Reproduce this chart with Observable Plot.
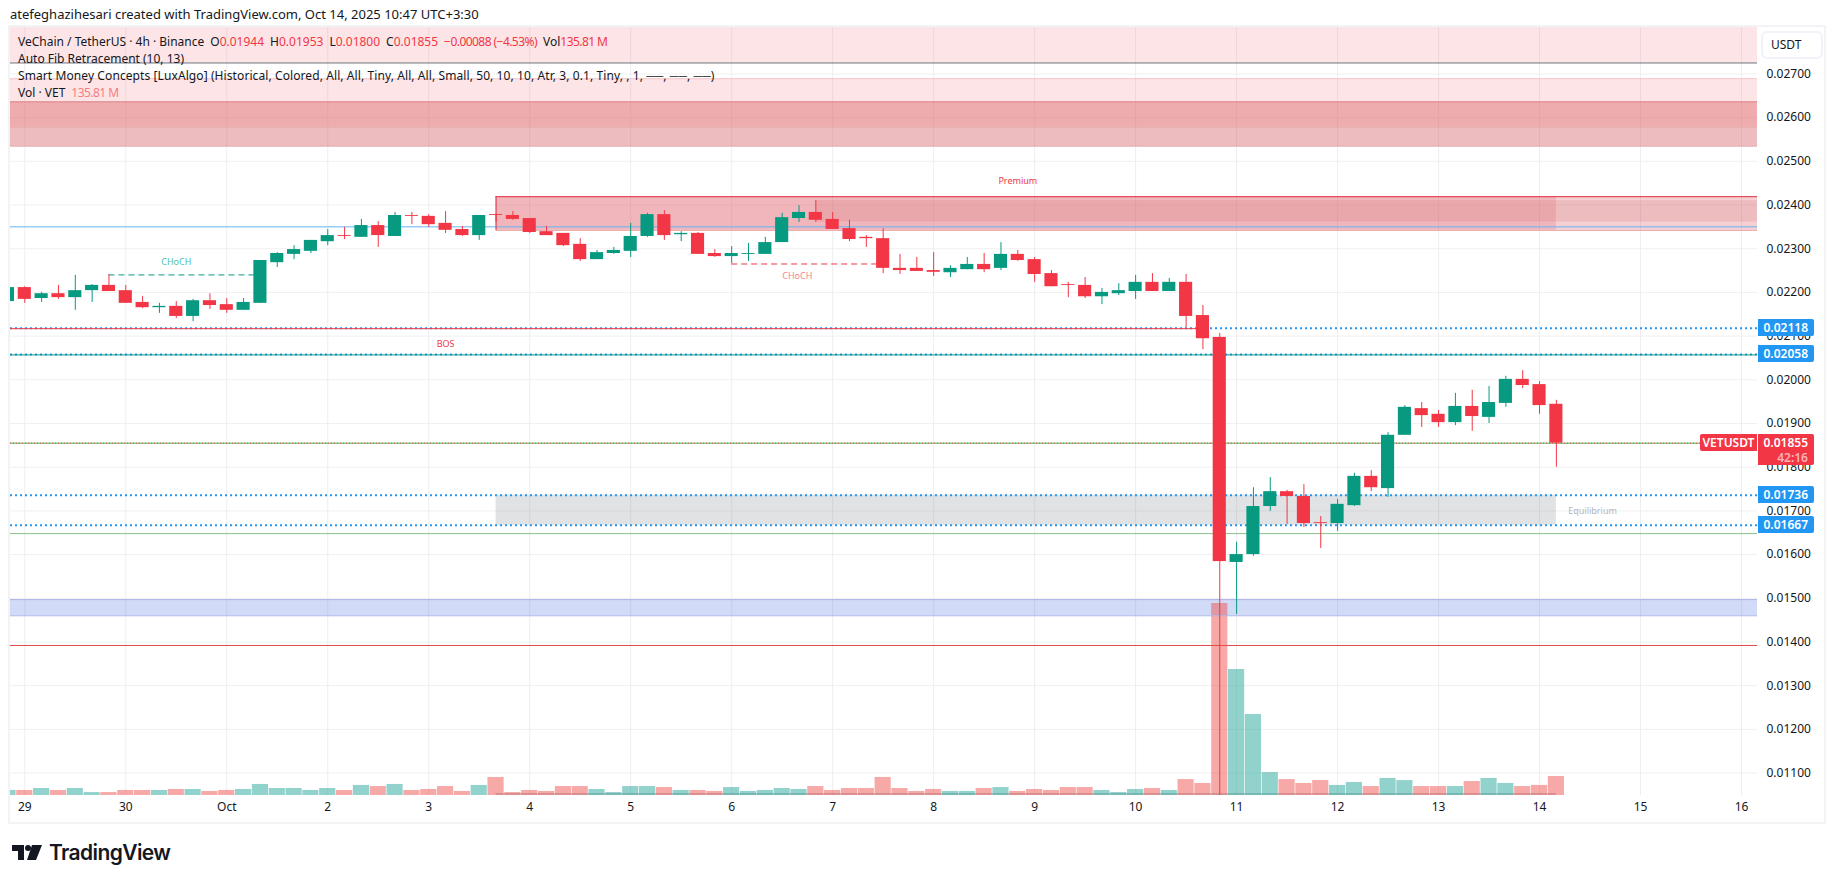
<!DOCTYPE html>
<html><head><meta charset="utf-8">
<script src="https://cdn.jsdelivr.net/npm/d3@7"></script>
<script src="https://cdn.jsdelivr.net/npm/@observablehq/plot@0.6"></script>
<style>
html,body{margin:0;padding:0;background:#fff;width:1835px;height:883px;overflow:hidden;font-family:"Noto Sans",sans-serif;color:#131722}
#wrap{position:relative;width:1835px;height:883px}
#chart{position:absolute;left:0;top:0}
.abs{position:absolute;white-space:pre;line-height:1}
#frame{position:absolute;left:8px;top:25px;width:1814px;height:795px;border:2px solid #f2f3f5;pointer-events:none}
#usdt{position:absolute;left:1761px;top:31px;width:58px;height:24px;border:2px solid #f0f3fa;border-radius:6px;font-size:12px;line-height:24px;text-indent:8px;background:#fff}
.leg{font-size:12px;left:18px;color:#131722}
.r{color:#f23645}.rl{color:#f77c80}
.g{margin-left:6px}
.n{letter-spacing:-.55px}
.tag{position:absolute;left:1758px;width:56px;color:#fff;font-size:12px;font-weight:600;text-align:right;box-sizing:border-box;padding-right:6px;border-radius:0 2px 2px 0}
</style></head><body><div id="wrap">
<div id="chart"></div>
<div id="frame"></div>
<div class="abs" style="left:10px;top:8px;font-size:13px;">atefeghazihesari created with TradingView.com, Oct 14, 2025 10:47 UTC+3:30</div>
<div class="abs leg" style="top:36px">VeChain / TetherUS · 4h · Binance<span class="g">O</span><span class="r">0.01944</span><span class="g">H</span><span class="r">0.01953</span><span class="g">L</span><span class="r">0.01800</span><span class="g">C</span><span class="r">0.01855</span><span class="g r n">−0.00088 (−4.53%)</span><span class="g">Vol</span><span class="r n">135.81 M</span></div>
<div class="abs leg" style="top:53px">Auto Fib Retracement (10, 13)</div>
<div class="abs leg" style="top:70px;letter-spacing:.09px">Smart Money Concepts [LuxAlgo] (Historical, Colored, All, All, Tiny, All, All, Small, 50, 10, 10, Atr, 3, 0.1, Tiny, , 1, ──, ──, ──)</div>
<div class="abs leg" style="top:87px">Vol · VET<span class="g rl n">135.81 M</span></div>
<div id="usdt">USDT</div>
<svg style="position:absolute;left:12px;top:845px" width="30" height="15" viewBox="0 0 30 15"><path d="M0 0H12V15H6V6H0Z M20 0H30L24 15H15Z" fill="#131722"/><circle cx="16" cy="3" r="3" fill="#131722"/></svg>
<div class="abs" style="left:49px;top:842px;font-family:Inter,sans-serif;font-size:21px;font-weight:600;letter-spacing:-.6px">TradingView</div>
</div>
<script>
// prices in exchange ticks (1 tick = 0.00001 USDT); first bar is the partly hidden one at the left edge
const tick = 0.00001;
const opens = [2179,2211,2186,2197,2188,2204,2216,2204,2177,2165,2168,2145,2181,2172,2159,2175,2268,2287,2294,2316,2330,2326,2353,2328,2376,2374,2358,2344,2330,2378,2376,2369,2339,2335,2310,2275,2289,2294,2328,2378,2332,2335,2289,2282,2287,2287,2314,2369,2383,2367,2346,2326,2323,2255,2255,2250,2245,2252,2264,2255,2287,2275,2243,2218,2216,2190,2197,2202,2223,2202,2223,2147,2097,1582,1600,1710,1744,1733,1673,1671,1712,1779,1751,1873,1934,1921,1902,1939,1914,1946,2001,1989,1944];
const closes = [2211,2184,2197,2188,2204,2216,2202,2175,2165,2168,2145,2181,2170,2159,2177,2273,2289,2298,2319,2330,2328,2353,2330,2376,2374,2355,2342,2330,2376,2376,2367,2337,2330,2307,2275,2291,2296,2328,2378,2330,2335,2287,2282,2289,2289,2314,2371,2383,2365,2344,2321,2323,2255,2250,2248,2246,2255,2264,2252,2287,2273,2241,2213,2216,2190,2200,2204,2223,2202,2223,2145,2094,1584,1600,1710,1744,1733,1671,1671,1715,1779,1753,1873,1937,1918,1902,1939,1916,1948,2001,1987,1941,1855];
const highs = [2211,2213,2200,2216,2239,2218,2241,2216,2191,2175,2179,2184,2197,2186,2186,2273,2291,2307,2319,2344,2349,2367,2362,2383,2383,2378,2385,2351,2376,2378,2385,2369,2351,2335,2323,2296,2303,2358,2381,2387,2339,2337,2298,2305,2312,2326,2381,2399,2410,2383,2365,2330,2346,2287,2280,2291,2261,2280,2289,2314,2296,2280,2250,2223,2234,2209,2220,2239,2243,2232,2241,2170,2106,1628,1753,1776,1747,1760,1687,1726,1786,1792,1879,1941,1948,1930,1969,1976,1985,2008,2021,1996,1953];
const lows = [2179,2175,2177,2184,2159,2177,2202,2175,2163,2152,2140,2133,2161,2152,2159,2175,2257,2275,2289,2307,2321,2326,2303,2328,2355,2349,2335,2328,2319,2361,2365,2335,2330,2305,2271,2275,2287,2280,2326,2319,2316,2287,2280,2266,2271,2287,2314,2360,2360,2344,2316,2303,2243,2241,2248,2236,2234,2252,2245,2250,2271,2223,2213,2188,2186,2172,2193,2184,2202,2202,2119,2069,1000,1463,1596,1699,1669,1662,1614,1653,1710,1744,1731,1873,1891,1891,1895,1882,1900,1937,1980,1921,1800];
// volume in millions, same order
const volumes = [36,36,50,36,50,21,21,36,36,36,43,43,29,36,43,79,50,50,36,50,36,72,64,79,36,43,64,29,72,129,21,36,29,64,64,43,21,64,64,57,36,36,29,57,29,36,50,43,64,36,50,50,129,50,29,43,29,29,50,57,29,43,36,57,57,36,21,43,50,36,114,86,1373,901,579,164,114,86,107,72,93,64,122,107,64,64,64,100,122,86,64,72,136];
const dayLabels = ["29","30","Oct","2","3","4","5","6","7","8","9","10","11","12","13","14","15","16"];
const priceTicks = [0.011,0.012,0.013,0.014,0.015,0.016,0.017,0.018,0.019,0.02,0.021,0.022,0.023,0.024,0.025,0.026,0.027];
const barsPerDay = 6;
const domainX = [-0.85,102.95];
const domainY = [0.010487,0.028062];
const volPerPrice = 0.32*tick;           // volume overlay: price span per million
const sweepBar = 28, retestBar = 47, zoneEndBar = 91;

const bars = opens.map((o,k)=>({i:k-1,o:o*tick,c:closes[k]*tick,h:highs[k]*tick,l:lows[k]*tick,v:volumes[k],up:closes[k]>o}));
const dayTicks = dayLabels.map((_,k)=>k*barsPerDay);

const RED="#f23645",GRN="#089981",BLUE="#2196f3";
const xr=domainX[1], xl=domainX[0], yb=domainY[0], yt=domainY[1];
const P=t=>t*tick;
// zones: [x1,x2,lowTicks,highTicks,fill,opacity]
const zones=[
 [xl,xr,2725,2806.2,RED,.13],
 [xl,xr,2636,2689,RED,.13],
 [xl,xr,2578,2636,"#dd595d",.5],
 [xl,xr,2535,2578,"#d0585f",.4],
 [sweepBar,xr,2342,2419,"#d93f4a",.25],
 [retestBar,xr,2361,2410,"#c0505a",.15],
 [sweepBar,zoneEndBar,2342,2419,"#e0555f",.2],
 [sweepBar,zoneEndBar,1667,1736,"#787b86",.22],
 [xl,xr,1460,1497,"#3f63d8",.24],
 [sweepBar,zoneEndBar,1048.7,1053.4,"#787b86",.4]
].map(([x1,x2,l,h,fill,a])=>({x1,x2,y1:P(l),y2:P(h),fill,a}));
// horizontal levels: [x1,x2,priceTicks,colour,width,dash,opacity]
const levels=[
 [xl,xr,2725,"#6f6f7a",1,null,1],
 [xl,xr,2689,"#f7c6c8",1,null,1],
 [xl,xr,2636,"#de8488",1,null,1],
 [xl,xr,2535,"#e08a8e",1,null,1],
 [xl,xr,2578,"#e5a0a3",1,null,.6],
 [sweepBar,xr,2419,"#df2f40",1,null,1],
 [sweepBar,xr,2342,"#e8a0a5",1,null,1],
 [xl,xr,2350,"#64b5f6",1,null,1],
 [xl,xr,2118,BLUE,2,"2 3",1],
 [xl,70,2117,RED,1,null,1],
 [xl,xr,2058,BLUE,2,"2 3",1],
 [xl,xr,2057,GRN,1,null,1],
 [xl,xr,1855,"#4caf50",1,null,1],
 [xl,xr,1855,RED,1,"1 2",.9],
 [xl,xr,1736,BLUE,2,"2 3",1],
 [xl,xr,1667,BLUE,2,"2 3",1],
 [xl,xr,1648,"#86c08c",1,null,1],
 [xl,xr,1497,"#aab6e8",1,null,1],
 [xl,xr,1460,"#a9b5e6",1,null,1],
 [xl,xr,1392,"#e24a4a",1,null,1],
 [5,14,2240,GRN,1,"6 4",1],
 [42,51,2265,RED,1,"6 4",1]
].map(([x1,x2,p,c,w,d,a])=>({x1,x2,p:P(p),c,w,d,a}));
const notes=[
 {x:59,p:2454,t:"Premium",c:"#f23645"},
 {x:93.15,p:1699,t:"Equilibrium",c:"#b2b5be"},
 {x:25,p:2082,t:"BOS",c:"#f23645"},
 {x:9,p:2269,t:"CHoCH",c:"#4dbfa9"},
 {x:45.9,p:2237,t:"CHoCH",c:"#f7848f"}
];

const chart=Plot.plot({
 width:1835,height:883,marginLeft:10,marginRight:78,marginTop:27,marginBottom:88,
 style:{fontFamily:'"Noto Sans",sans-serif',fontSize:"12px",background:"transparent",color:"#131722"},
 x:{type:"linear",domain:domainX,range:[10,1757]},
 y:{type:"linear",domain:domainY,range:[795,27]},
 marks:[
  Plot.ruleY(priceTicks,{stroke:"#f0f0f2",strokeWidth:1}),
  Plot.ruleX(dayTicks,{stroke:"#eeeef0",strokeWidth:1}),
  Plot.rect(zones,{x1:"x1",x2:"x2",y1:"y1",y2:"y2",fill:"fill",fillOpacity:"a",clip:true}),
  Plot.rect(bars,{x1:d=>d.i-.48,x2:d=>d.i+.48,y1:yb,y2:d=>yb+d.v*volPerPrice,fill:d=>d.up?"#26a69a":"#ef5350",fillOpacity:.5,clip:true}),
  ...levels.map(L=>Plot.ruleY([L.p],{x1:L.x1,x2:L.x2,stroke:L.c,strokeWidth:L.w,strokeDasharray:L.d||undefined,strokeOpacity:L.a})),
  Plot.ruleX([sweepBar],{y1:P(2342),y2:P(2419),stroke:"#df2f40",strokeWidth:1}),
  Plot.ruleX(bars,{x:"i",y1:"l",y2:"h",stroke:d=>d.up?GRN:RED,strokeWidth:1,clip:true}),
  Plot.rect(bars,{x1:d=>d.i-.39,x2:d=>d.i+.39,y1:d=>Math.min(d.o,d.c),y2:d=>Math.max(d.o,d.c),fill:d=>d.up?GRN:RED,clip:true}),
  Plot.text(notes,{x:"x",y:d=>d.p*tick,text:"t",fill:"c",fontSize:9}),
  Plot.axisY({anchor:"right",ticks:priceTicks,tickSize:0,tickPadding:9,textAnchor:"start",tickFormat:d3.format(".5f"),label:null,fill:"#131722"}),
  Plot.axisX({anchor:"bottom",ticks:dayTicks,tickSize:0,tickPadding:7,tickFormat:i=>dayLabels[i/barsPerDay],label:null,fill:"#131722"})
 ]
});
document.getElementById("chart").appendChild(chart);
const yScale=chart.scale("y");
const wrap=document.getElementById("wrap");
const blueTags=[0.02118,0.02058,0.01736,0.01667];
for(const v of blueTags){
 const e=document.createElement("div");e.className="tag";e.textContent=v.toFixed(5);
 const y=yScale.apply(v);
 e.style.cssText=`top:${y-8.5}px;height:17px;line-height:17px;background:${BLUE}`;
 wrap.appendChild(e);
}
const lastClose=closes[closes.length-1]*tick, yLast=yScale.apply(lastClose);
const t=document.createElement("div");t.className="tag";
t.style.cssText=`top:${yLast-8.5}px;height:31px;line-height:15px;padding-top:1px;background:${RED}`;
t.innerHTML=`${lastClose.toFixed(5)}<br><span style="color:#fbb4ba">42:16</span>`;
wrap.appendChild(t);
const s=document.createElement("div");s.className="abs";
s.style.cssText=`left:1700px;top:${yLast-8.5}px;width:57px;height:17px;line-height:17px;background:${RED};color:#fff;font-size:12px;font-weight:600;text-align:center;border-radius:2px 0 0 2px`;
s.textContent="VETUSDT";wrap.appendChild(s);
</script></body></html>
